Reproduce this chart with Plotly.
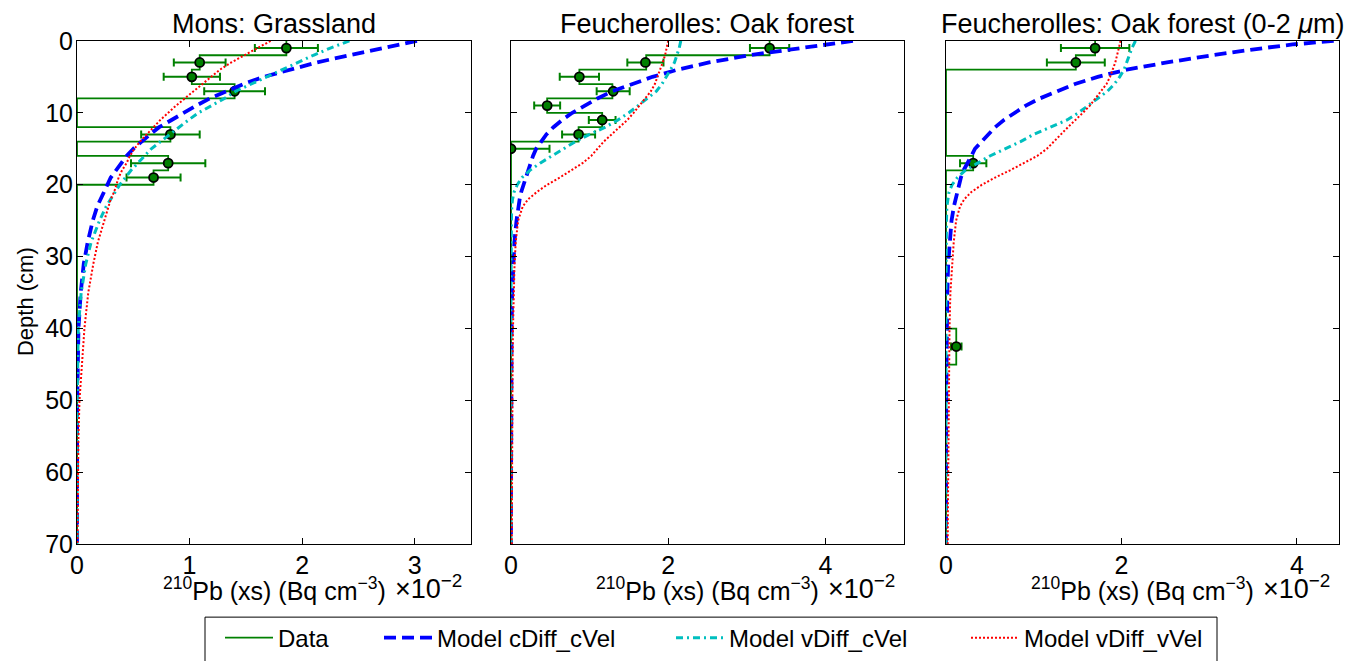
import plotly.graph_objects as go

# ---------------- data ----------------
titles = ["Mons: Grassland", "Feucherolles: Oak forest",
          "Feucherolles: Oak forest (0-2 <i>\u03bc</i>m)"]
series_names = ["Data", "Model cDiff_cVel", "Model vDiff_cVel", "Model vDiff_vVel"]

# measured layers (step profile)
p1_edges = [0, 2, 4, 6, 8, 10, 12, 14, 16, 18, 20, 70]
p1_layer = [1.86, 1.09, 1.02, 1.40, 0.0, 0.0, 0.83, 0.0, 0.81, 0.68, 0.0]
p2_edges = [0, 2, 4, 6, 8, 10, 12, 14, 16, 70]
p2_layer = [3.29, 1.72, 0.87, 1.29, 0.46, 1.16, 0.86, 0.0, 0.0]
p3_edges = [0, 2, 4, 16, 18, 40, 45, 70]
p3_layer = [1.70, 1.48, 0.0, 0.31, 0.0, 0.117, 0.0]

# measured points with errors
p1_pt_depth = [1, 3, 5, 7, 13, 17, 19]
p1_pt_val = [1.86, 1.09, 1.02, 1.40, 0.83, 0.81, 0.68]
p1_pt_err = [0.28, 0.23, 0.25, 0.27, 0.26, 0.33, 0.24]
p2_pt_depth = [1, 3, 5, 7, 9, 11, 13, 15]
p2_pt_val = [3.29, 1.71, 0.87, 1.30, 0.46, 1.16, 0.86, 0.0]
p2_pt_err = [0.25, 0.23, 0.25, 0.21, 0.165, 0.17, 0.21, 0.49]
p3_pt_depth = [1, 3, 17, 42.5]
p3_pt_val = [1.70, 1.48, 0.31, 0.117]
p3_pt_err = [0.39, 0.33, 0.15, 0.06]

# model profiles
model_depth = [0, 0.5, 1, 2, 3, 4, 5, 6, 7, 8, 9, 10, 11, 12, 13, 14, 15, 16, 17, 18,
               19, 20, 21, 22, 23, 25, 28, 31, 35, 40, 45, 50, 55, 60, 65, 70]
p1_cdiff_cvel = [3.02, 2.86, 2.70, 2.42, 2.13, 1.88, 1.66, 1.48, 1.32, 1.18, 1.06, 0.95,
                 0.83, 0.73, 0.65, 0.57, 0.50, 0.44, 0.39, 0.35, 0.30, 0.27, 0.24, 0.21,
                 0.18, 0.14, 0.095, 0.06, 0.033, 0.013, 0.005, 0.002, 0.001, 0.0, 0.0, 0.0]
p1_vdiff_cvel = [2.42, 2.33, 2.25, 2.10, 1.96, 1.82, 1.68, 1.54, 1.41, 1.31, 1.20, 1.08,
                 0.99, 0.91, 0.82, 0.74, 0.66, 0.60, 0.54, 0.48, 0.43, 0.38, 0.34, 0.30,
                 0.26, 0.20, 0.125, 0.078, 0.037, 0.011, 0.005, 0.002, 0.001, 0.0, 0.0, 0.0]
p1_vdiff_vvel = [1.72, 1.66, 1.60, 1.48, 1.37, 1.27, 1.19, 1.11, 1.03, 0.96, 0.88, 0.81,
                 0.74, 0.68, 0.62, 0.56, 0.51, 0.47, 0.44, 0.40, 0.37, 0.35, 0.33, 0.30,
                 0.28, 0.24, 0.185, 0.145, 0.10, 0.066, 0.041, 0.022, 0.013, 0.008, 0.005, 0.003]
p2_cdiff_cvel = [4.35, 4.00, 3.67, 3.03, 2.52, 2.12, 1.80, 1.53, 1.29, 1.10, 0.93, 0.78,
                 0.65, 0.54, 0.45, 0.38, 0.32, 0.28, 0.25, 0.22, 0.18, 0.15, 0.13, 0.11,
                 0.095, 0.07, 0.043, 0.028, 0.015, 0.008, 0.004, 0.002, 0.001, 0.001, 0.0, 0.0]
p2_vdiff_cvel = [2.16, 2.15, 2.14, 2.11, 2.08, 2.03, 1.98, 1.92, 1.85, 1.73, 1.62, 1.50,
                 1.36, 1.20, 1.00, 0.82, 0.67, 0.52, 0.37, 0.24, 0.14, 0.08, 0.04, 0.02,
                 0.01, 0.005, 0.002, 0.001, 0.0, 0.0, 0.0, 0.0, 0.0, 0.0, 0.0, 0.0]
p2_vdiff_vvel = [2.00, 1.99, 1.98, 1.96, 1.93, 1.90, 1.87, 1.83, 1.78, 1.71, 1.64, 1.56,
                 1.48, 1.38, 1.27, 1.18, 1.10, 1.02, 0.91, 0.77, 0.62, 0.46, 0.33, 0.22,
                 0.15, 0.09, 0.06, 0.045, 0.032, 0.025, 0.02, 0.018, 0.015, 0.012, 0.011, 0.01]
p3_cdiff_cvel = [4.42, 3.95, 3.62, 3.03, 2.52, 2.06, 1.73, 1.47, 1.27, 1.07, 0.91, 0.78,
                 0.66, 0.56, 0.48, 0.40, 0.33, 0.29, 0.24, 0.20, 0.17, 0.15, 0.12, 0.105,
                 0.09, 0.063, 0.04, 0.025, 0.015, 0.008, 0.005, 0.003, 0.002, 0.001, 0.0, 0.0]
p3_vdiff_cvel = [2.16, 2.14, 2.12, 2.09, 2.06, 2.03, 1.98, 1.92, 1.84, 1.73, 1.62, 1.51,
                 1.38, 1.20, 1.00, 0.85, 0.67, 0.50, 0.36, 0.22, 0.13, 0.07, 0.035, 0.02,
                 0.01, 0.005, 0.002, 0.001, 0.0, 0.0, 0.0, 0.0, 0.0, 0.0, 0.0, 0.0]
p3_vdiff_vvel = [1.99, 1.98, 1.97, 1.95, 1.93, 1.90, 1.87, 1.83, 1.77, 1.71, 1.64, 1.56,
                 1.47, 1.39, 1.31, 1.23, 1.15, 1.04, 0.89, 0.73, 0.56, 0.41, 0.29, 0.21,
                 0.16, 0.115, 0.088, 0.07, 0.05, 0.04, 0.035, 0.03, 0.027, 0.025, 0.022, 0.02]

x_max = [3.5, 5.0, 4.48]
x_ticks = [[0, 1, 2, 3], [0, 2, 4], [0, 2, 4]]
y_ticks = [0, 10, 20, 30, 40, 50, 60, 70]

# ---------------- layout constants ----------------
W, H = 1356, 661
FONT = "Liberation Sans, Arial, sans-serif"
x_dom_px = [(77, 471), (511, 904), (946, 1339)]
y_top_px, y_bot_px = 41, 546

panels = [
    (p1_edges, p1_layer, p1_pt_depth, p1_pt_val, p1_pt_err, p1_cdiff_cvel, p1_vdiff_cvel, p1_vdiff_vvel),
    (p2_edges, p2_layer, p2_pt_depth, p2_pt_val, p2_pt_err, p2_cdiff_cvel, p2_vdiff_cvel, p2_vdiff_vvel),
    (p3_edges, p3_layer, p3_pt_depth, p3_pt_val, p3_pt_err, p3_cdiff_cvel, p3_vdiff_cvel, p3_vdiff_vvel),
]

GREEN = "#008000"
styles = [
    dict(color="#0000ff", width=3.8, dash="12px,6px"),
    dict(color="#00bfbf", width=3, dash="7px,4px,2px,4px"),
    dict(color="#ff0000", width=2, dash="2px,2px"),
]
legend_ids = ["legend", "legend2", "legend3", "legend4"]

fig = go.Figure()
for i, (edges, layer, pd_, pv, pe, mb, mc, mr) in enumerate(panels):
    xa = "x" if i == 0 else f"x{i+1}"
    ya = "y" if i == 0 else f"y{i+1}"
    sx, sy = [], []
    for k in range(len(layer)):
        sx += [layer[k], layer[k]]
        sy += [edges[k], edges[k + 1]]
    fig.add_trace(go.Scatter(x=sx, y=sy, mode="lines", xaxis=xa, yaxis=ya,
                             line=dict(color=GREEN, width=1.8),
                             name=series_names[0], legend=legend_ids[0],
                             showlegend=(i == 0)))
    fig.add_trace(go.Scatter(x=pv, y=pd_, mode="markers", xaxis=xa, yaxis=ya,
                             marker=dict(color=GREEN, size=9, line=dict(color="black", width=1.8)),
                             error_x=dict(type="data", array=pe, color=GREEN, thickness=2, width=4),
                             showlegend=False))
    for j, ys in enumerate([mb, mc, mr]):
        fig.add_trace(go.Scatter(x=ys, y=model_depth, mode="lines", xaxis=xa, yaxis=ya,
                                 line=styles[j], name=series_names[j + 1],
                                 legend=legend_ids[j + 1], showlegend=(i == 0)))

ydom = [1 - y_bot_px / H, 1 - y_top_px / H]
axis_common = dict(showline=True, linecolor="black", linewidth=1, mirror="allticks",
                   ticks="inside", ticklen=6, tickwidth=1, tickcolor="black",
                   showgrid=False, zeroline=False, automargin=False,
                   tickfont=dict(family=FONT, size=25, color="black"))
layout = dict(width=W, height=H, autosize=False,
              margin=dict(l=0, r=0, t=0, b=0, pad=0),
              paper_bgcolor="white", plot_bgcolor="white",
              font=dict(family=FONT, color="black"))
for i in range(3):
    sfx = "" if i == 0 else str(i + 1)
    xd = [x_dom_px[i][0] / W, x_dom_px[i][1] / W]
    layout["xaxis" + sfx] = dict(domain=xd, range=[0, x_max[i]], tickvals=x_ticks[i],
                                 anchor="y" + sfx, ticklabelstandoff=-1, **axis_common)
    layout["yaxis" + sfx] = dict(domain=ydom, range=[70, 0], tickvals=y_ticks,
                                 anchor="x" + sfx, showticklabels=(i == 0),
                                 ticklabelstandoff=-2, **axis_common)

annotations = []
for i in range(3):
    x0, x1 = x_dom_px[i]
    annotations.append(dict(text=titles[i], x=(x0 + x1) / 2 / W, y=1 - y_top_px / H,
                            xref="paper", yref="paper", xanchor="center", yanchor="bottom",
                            yshift=0, showarrow=False, font=dict(family=FONT, size=27)))
    annotations.append(dict(text="<sup>210</sup>Pb (xs) (Bq cm<sup>\u22123</sup>)",
                            x=(x0 + x1) / 2 / W, y=1 - 591 / H, xref="paper", yref="paper",
                            xanchor="center", yanchor="middle", showarrow=False,
                            font=dict(family=FONT, size=25)))
    annotations.append(dict(text="\u00d710<sup>\u22122</sup>",
                            x=(x1 - 7) / W, y=1 - 589 / H, xref="paper", yref="paper",
                            xanchor="right", yanchor="middle", showarrow=False,
                            font=dict(family=FONT, size=27)))
annotations.append(dict(text="Depth (cm)", x=25 / W, y=1 - 303 / H, xref="paper", yref="paper",
                        textangle=-90, xanchor="center", yanchor="middle", showarrow=False,
                        font=dict(family=FONT, size=22)))
layout["annotations"] = annotations

# legends: one per entry so spacing matches the framed legend row
legend_text_x = [278, 437, 729, 1024]
for k, lid in enumerate(legend_ids):
    layout[lid] = dict(x=(legend_text_x[k] - 58) / W, xanchor="left",
                       y=1 - 640 / H, yanchor="middle", orientation="h",
                       bgcolor="rgba(0,0,0,0)", borderwidth=0, itemwidth=48,
                       font=dict(family=FONT, size=24, color="black"))
layout["shapes"] = [dict(type="rect", xref="paper", yref="paper",
                         x0=205 / W, x1=1217 / W, y0=-0.05, y1=1 - 619 / H,
                         line=dict(color="black", width=1), fillcolor="rgba(0,0,0,0)")]

fig.update_layout(**layout)
fig.write_html("out.html", config={"displayModeBar": False},
               post_script="document.body.style.margin='0px';")
